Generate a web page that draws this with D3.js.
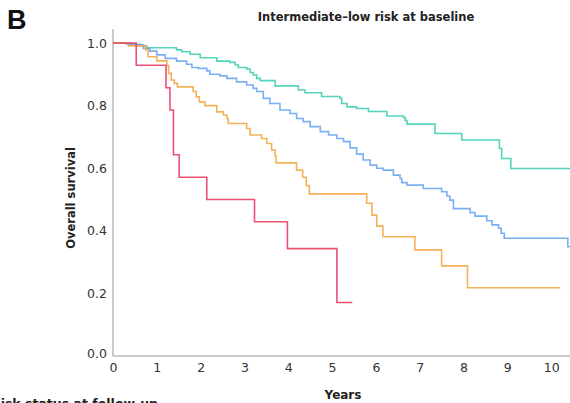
<!DOCTYPE html>
<html><head><meta charset="utf-8">
<script src="https://cdn.jsdelivr.net/npm/d3@7"></script>
<style>body{margin:0;background:#fff}svg{display:block}</style>
</head><body>
<svg id="c" width="570" height="403"></svg>
<script>
const panelLabel = "B";
const title = "Intermediate\u2013low risk at baseline";
const yTitle = "Overall survival";
const xTitle = "Years";
const legendTitle = "Risk status at follow-up";
const xTicks = [0,1,2,3,4,5,6,7,8,9,10];
const yTicks = [0,0.2,0.4,0.6,0.8,1.0];

const tealT = [0,0.39,0.62,0.77,1.45,1.57,1.76,1.99,2.37,2.67,2.79,2.86,3.05,3.13,3.20,3.28,3.36,3.70,4.23,4.38,4.76,5.18,5.22,5.34,5.56,5.83,6.25,6.63,6.67,6.71,7.35,7.96,8.82,8.87,9.08,10.43];
const tealS = [1.0,0.996,0.991,0.985,0.978,0.972,0.964,0.953,0.942,0.938,0.930,0.922,0.917,0.906,0.898,0.887,0.880,0.863,0.850,0.841,0.829,0.823,0.807,0.796,0.791,0.781,0.767,0.762,0.752,0.741,0.711,0.690,0.663,0.631,0.599,0.599];

const blueT = [0,0.30,0.50,0.69,0.84,1.00,1.19,1.45,1.68,1.80,1.95,2.14,2.21,2.44,2.60,2.82,3.05,3.20,3.28,3.43,3.58,3.81,4.04,4.19,4.34,4.50,4.73,4.92,5.11,5.26,5.41,5.56,5.71,5.87,6.02,6.17,6.40,6.55,6.59,6.71,7.08,7.50,7.62,7.69,7.77,8.15,8.26,8.53,8.65,8.80,8.86,8.93,10.38,10.43];
const blueS = [1.0,0.997,0.994,0.983,0.974,0.962,0.951,0.942,0.932,0.922,0.919,0.911,0.900,0.895,0.887,0.876,0.866,0.855,0.845,0.823,0.807,0.786,0.775,0.759,0.749,0.733,0.717,0.706,0.695,0.685,0.665,0.645,0.626,0.610,0.600,0.594,0.578,0.567,0.554,0.546,0.535,0.525,0.511,0.498,0.471,0.458,0.447,0.432,0.419,0.408,0.392,0.376,0.349,0.349];

const orangeT = [0,0.35,0.75,0.80,1.00,1.23,1.27,1.33,1.40,1.47,1.83,1.90,1.97,2.10,2.37,2.52,2.60,2.63,3.05,3.13,3.39,3.51,3.62,3.70,3.72,4.19,4.33,4.41,4.48,5.79,5.91,6.02,6.16,6.89,7.50,8.09,10.21];
const orangeS = [1.0,0.991,0.978,0.956,0.943,0.928,0.903,0.882,0.871,0.860,0.845,0.828,0.812,0.800,0.780,0.770,0.759,0.743,0.727,0.706,0.695,0.679,0.658,0.640,0.617,0.594,0.571,0.545,0.518,0.488,0.450,0.415,0.381,0.339,0.288,0.218,0.218];

const redT = [0,0.53,1.21,1.30,1.38,1.51,2.14,3.23,3.98,5.11,5.46];
const redS = [1.0,0.929,0.857,0.786,0.643,0.571,0.500,0.429,0.343,0.171,0.171];

const series = [
  {name:"teal", t:tealT, s:tealS, color:"#3fd0b4"},
  {name:"blue", t:blueT, s:blueS, color:"#6aa6f2"},
  {name:"orange", t:orangeT, s:orangeS, color:"#f2aa48"},
  {name:"red", t:redT, s:redS, color:"#ea3d64"}
];

const svg = d3.select("#c");
const font = "'DejaVu Sans', sans-serif";
const x = d3.scaleLinear().domain([0,10.43]).range([113,570]);
const y = d3.scaleLinear().domain([0,1.04]).range([356,30.5]);

svg.append("line").attr("x1",x(0)).attr("x2",x(0)).attr("y1",y(1.045)).attr("y2",y(0)).attr("stroke","#b8b8b8").attr("stroke-width",1.5);
svg.append("line").attr("x1",x(0)).attr("x2",570).attr("y1",y(0)).attr("y2",y(0)).attr("stroke","#b8b8b8").attr("stroke-width",1.5);

const yAxis = d3.axisLeft(y).tickValues(yTicks).tickFormat(d3.format(".1f")).tickSize(0).tickPadding(6);
const gy = svg.append("g").attr("transform",`translate(${x(0)},0)`).call(yAxis);
gy.select(".domain").remove();
gy.selectAll("text").attr("font-family",font).attr("font-size",12.5).attr("fill","#333");
gy.selectAll(".tick").filter(d=>d===0).select("text").attr("dy","0.1em");

const xAxis = d3.axisBottom(x).tickValues(xTicks).tickSize(0).tickPadding(7);
const gx = svg.append("g").attr("transform",`translate(0,${y(0)})`).call(xAxis);
gx.select(".domain").remove();
gx.selectAll("text").attr("font-family",font).attr("font-size",12.5).attr("fill","#333");

const line = d3.line().x(d=>x(d[0])).y(d=>y(d[1])).curve(d3.curveStepAfter);
series.forEach(sr=>{
  const pts = sr.t.map((t,i)=>[t, sr.s[i]]);
  svg.append("path").datum(pts).attr("d",line).attr("fill","none")
    .attr("stroke",sr.color).attr("stroke-width",1.6).attr("stroke-opacity",0.9);
});

svg.append("text").attr("x",7).attr("y",29).text(panelLabel)
  .attr("font-family","'Liberation Sans', Arial, sans-serif").attr("font-weight","bold").attr("font-size",27).attr("fill","#111");
svg.append("text").attr("x",366).attr("y",21).attr("text-anchor","middle").text(title)
  .attr("font-family",font).attr("font-weight","bold").attr("font-size",11.5).attr("fill","#222");
svg.append("text").attr("transform","translate(75,198) rotate(-90)").attr("text-anchor","middle").text(yTitle)
  .attr("font-family",font).attr("font-weight","bold").attr("font-size",11.5).attr("fill","#222");
svg.append("text").attr("x",343).attr("y",399).attr("text-anchor","middle").text(xTitle)
  .attr("font-family",font).attr("font-weight","bold").attr("font-size",12).attr("fill","#222");
svg.append("text").attr("x",-9).attr("y",408).text(legendTitle)
  .attr("font-family",font).attr("font-weight","bold").attr("font-size",12.5).attr("fill","#222");
</script>
</body></html>
